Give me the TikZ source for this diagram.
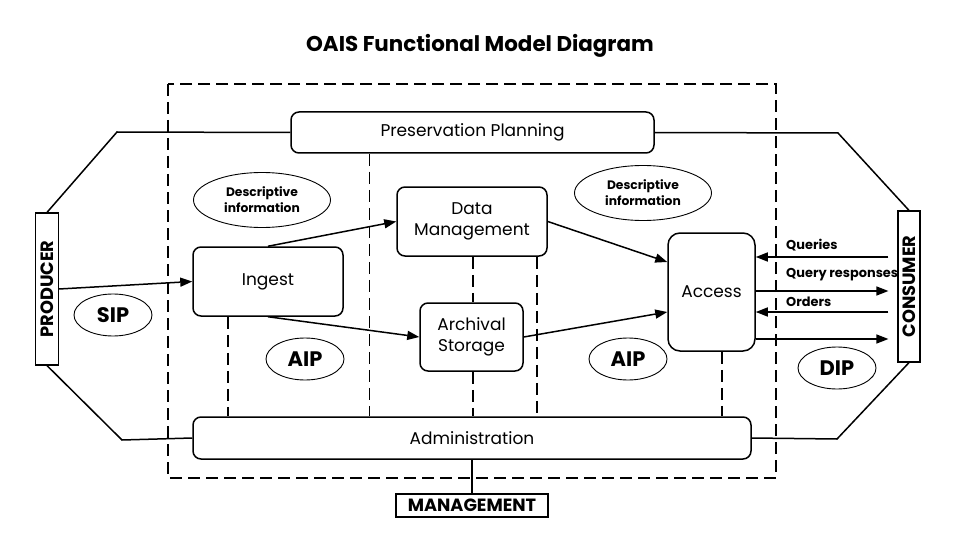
\documentclass[tikz,border=0pt]{standalone}
\usepackage{fontspec}
\setmainfont{Poppins}
\usetikzlibrary{arrows.meta,shapes.geometric,calc}
\begin{document}
\begin{tikzpicture}[x=1pt,y=-1pt,
  box/.style={draw,line width=1.5pt,rounded corners=8pt,inner sep=0pt,align=center,font=\fontsize{17}{21}\selectfont},
  oval/.style={draw,ellipse,line width=0.9pt,inner sep=0pt,align=center},
  descr/.style={oval,minimum width=137pt,minimum height=55pt,font=\bfseries\fontsize{12.3}{16}\selectfont},
  pkg/.style={oval,minimum width=78pt,minimum height=42pt,font=\bfseries\fontsize{21}{24}\selectfont},
  actor/.style={draw,line width=1.2pt,inner sep=0pt,font=\bfseries\fontsize{17.8}{20}\selectfont},
  conn/.style={line width=1.5pt},
  arr/.style={line width=1.5pt,-{Triangle[length=12pt,width=9pt]}},
  dline/.style={line width=1.4pt,dash pattern=on 12pt off 6pt},
  msg/.style={anchor=west,inner sep=0pt,font=\bfseries\fontsize{12.9}{15}\selectfont}
]
\useasboundingbox (0,0) rectangle (960,540);

% title
\node[font=\bfseries\fontsize{21.4}{25}\selectfont] (title) at (480,46) {OAIS Functional Model Diagram};

% outer dashed boundary
\draw[dline] (168,84) rectangle (776,478);

% main boxes
\node[box,minimum width=363pt,minimum height=41pt] (pp) at (472.5,132.5) {Preservation Planning};
\node[box,minimum width=558pt,minimum height=42pt] (admin) at (472,438) {Administration};
\node[box,minimum width=150pt,minimum height=69pt] (ingest) at (268,281.5) {Ingest};
\node[box,minimum width=150pt,minimum height=69pt] (dm) at (472,221.5) {Data\\Management};
\node[box,minimum width=103pt,minimum height=68pt] (as) at (471.5,337) {Archival\\Storage};
\node[box,rounded corners=12pt,minimum width=87pt,minimum height=118pt] (access) at (711.5,292) {Access};

% actors (rotated: east = visual top, west = visual bottom, south = visual right, north = visual left)
\node[actor,rotate=90,minimum width=152pt,minimum height=22.5pt] (producer) at (47,289) {PRODUCER};
\node[actor,rotate=90,minimum width=151pt,minimum height=22pt] (consumer) at (909,286.5) {CONSUMER};
\node[actor,minimum width=152pt,minimum height=23pt,font=\bfseries\fontsize{17.7}{20}\selectfont] (mgmt) at (472,505.5) {MANAGEMENT};

% ellipses
\node[descr] (d1) at (262,200) {Descriptive\\information};
\node[descr] (d2) at (643,193) {Descriptive\\information};
\node[pkg] (sip) at (113,315) {SIP};
\node[pkg] (aip1) at (305,359) {AIP};
\node[pkg] (aip2) at (628,359) {AIP};
\node[pkg] (dip) at (837,368) {DIP};

% hexagon outline
\draw[conn] (producer.east) -- (117,132) -- (pp.west);
\draw[conn] (producer.west) -- (122,440) -- (admin.west);
\draw[conn] (pp.east) -- (838,133) -- (consumer.east);
\draw[conn] (admin.east) -- (837,439) -- (consumer.west);
\draw[conn] (admin.south) -- (mgmt.north);

% dashed internal lines
\draw[dline] ($(ingest.south)+(-40,0)$) -- ($(ingest.south |- admin.north)+(-40,0)$);
\draw[dline] ($(pp.south)+(-103,0)$) -- ($(pp.south |- admin.north)+(-103,0)$);
\draw[dline] ($(dm.south)+(1,0)$) -- ($(as.north)+(1.5,0)$);
\draw[dline] ($(as.south)+(1.5,0)$) -- ($(as.south |- admin.north)+(1.5,0)$);
\draw[dline] ($(dm.south)+(65,0)$) -- ($(dm.south |- admin.north)+(65,0)$);
\draw[dline] ($(access.south)+(10.5,0)$) -- ($(access.south |- admin.north)+(10.5,0)$);

% flows
\draw[arr] (producer.south) -- (ingest.west);
\draw[arr] (ingest.north) -- (dm.west);
\draw[arr] (ingest.south) -- (as.west);
\draw[arr] (dm.east) -- ([yshift=30pt]access.west);
\draw[arr] (as.east) -- ([yshift=-20pt]access.west);

% consumer exchanges
\coordinate (q1) at ($(consumer.north |- access.east)+(-9,-35)$);
\coordinate (q2) at ($(consumer.north |- access.east)+(-9,-1)$);
\coordinate (q3) at ($(consumer.north |- access.east)+(-9,20)$);
\coordinate (q4) at ($(consumer.north |- access.east)+(-9,47)$);
\draw[arr] (q1) -- ([yshift=35pt]access.east);
\draw[arr] ([yshift=1pt]access.east) -- (q2);
\draw[arr] (q3) -- ([yshift=-20pt]access.east);
\draw[arr] ([yshift=-47pt]access.east) -- (q4);
\node[msg] (l1) at (786,245) {Queries};
\node[msg] (l2) at (786,275) {Query responses};
\node[msg] (l3) at (786,302) {Orders};
\end{tikzpicture}
\end{document}
